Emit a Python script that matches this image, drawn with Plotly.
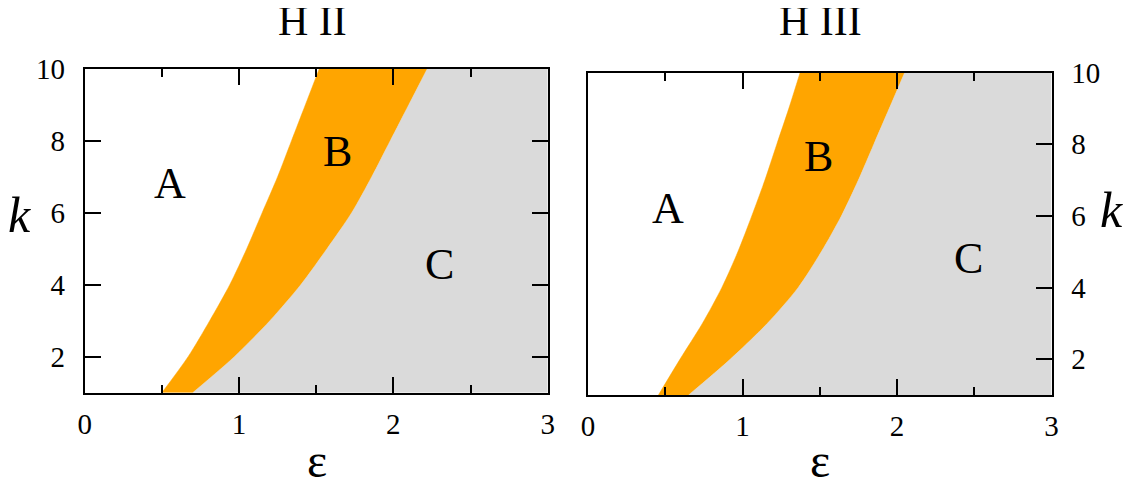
import plotly.graph_objects as go

W, H = 1131, 485
PAGE_OFFSET = 8  # default body margin of the html page

# ---- data ----
k_vals = [1, 2, 3, 4, 5, 6, 7, 8, 9, 10]
# H II panel
h2_ab = [0.50, 0.67, 0.81, 0.94, 1.05, 1.15, 1.25, 1.34, 1.43, 1.52]
h2_bc = [0.70, 0.97, 1.20, 1.40, 1.57, 1.73, 1.86, 1.98, 2.10, 2.22]
# H III panel
h3_ab = [0.455, 0.595, 0.74, 0.866, 0.97, 1.06, 1.145, 1.222, 1.30, 1.373]
h3_bc = [0.65, 0.92, 1.16, 1.36, 1.51, 1.64, 1.75, 1.85, 1.95, 2.05]

titles = ["H II", "H III"]
region_names = ["A", "B", "C"]
h2_label_pos = [(0.55, 6.82), (1.64, 7.69), (2.30, 4.55)]
h3_label_pos = [(0.52, 6.21), (1.49, 7.66), (2.46, 4.81)]

x_range = [0, 3]
y_range = [1, 10]
y_ticks = [2, 4, 6, 8, 10]

ORANGE = "#FFA500"
GRAY = "#DADADA"
FONT = "Liberation Serif"

# ---- layout geometry (pixels, target picture coordinates) ----
panels = [
    dict(x0=84.7, x1=547.7, y0=68.7, y1=392.7),
    dict(x0=588.0, x1=1051.5, y0=72.5, y1=395.2),
]

def px(x):
    return (x - PAGE_OFFSET) / W

def py(y):
    return 1 - (y - PAGE_OFFSET) / H

fig = go.Figure()

for i, (ab, bc, lab_pos) in enumerate([(h2_ab, h2_bc, h2_label_pos), (h3_ab, h3_bc, h3_label_pos)]):
    xa = "x" if i == 0 else "x2"
    ya = "y" if i == 0 else "y2"
    # right edge (invisible) for region C
    fig.add_trace(go.Scatter(x=[x_range[1]] * len(k_vals), y=k_vals, mode="lines",
                             line=dict(width=0, color=GRAY), xaxis=xa, yaxis=ya,
                             hoverinfo="skip", showlegend=False))
    # B/C boundary -> region C
    fig.add_trace(go.Scatter(x=bc, y=k_vals, mode="lines", fill="tonextx", fillcolor=GRAY,
                             line=dict(width=0.5, color=GRAY, shape="spline", smoothing=0.8),
                             xaxis=xa, yaxis=ya, hoverinfo="skip", showlegend=False))
    # A/B boundary -> region B
    fig.add_trace(go.Scatter(x=ab, y=k_vals, mode="lines", fill="tonextx", fillcolor=ORANGE,
                             line=dict(width=0.5, color=ORANGE, shape="spline", smoothing=0.8),
                             xaxis=xa, yaxis=ya, hoverinfo="skip", showlegend=False))
    for name, (lx, ly) in zip(region_names, lab_pos):
        fig.add_annotation(x=lx, y=ly, xref=xa, yref=ya, text=name, showarrow=False,
                           font=dict(family=FONT, size=44, color="black"))

axis_common = dict(showline=True, linecolor="black", linewidth=2, ticks="inside",
                   tickcolor="black", tickwidth=2, showgrid=False, zeroline=False,
                   automargin=False,
                   tickfont=dict(family=FONT, size=29, color="black"))

minor_x = dict(dtick=0.5, tick0=0, ticklen=8, ticks="inside", tickcolor="black",
               tickwidth=2, showgrid=False)

p0, p1 = panels
fig.update_layout(
    width=W, height=H, margin=dict(l=0, r=0, t=0, b=0, autoexpand=False),
    font=dict(family=FONT, color="black"),
    paper_bgcolor="white", plot_bgcolor="white", showlegend=False,
    xaxis=dict(domain=[px(p0["x0"]), px(p0["x1"])], range=x_range, anchor="y",
               tick0=0, dtick=1, ticklen=16, mirror="ticks", ticklabelstandoff=4,
               minor=minor_x, **axis_common),
    yaxis=dict(domain=[py(p0["y1"]), py(p0["y0"])], range=y_range, anchor="x",
               tickvals=y_ticks, ticklen=16, mirror="ticks", ticklabelstandoff=12,
               **axis_common),
    xaxis2=dict(domain=[px(p1["x0"]), px(p1["x1"])], range=x_range, anchor="y2",
                tick0=0, dtick=1, ticklen=16, mirror="ticks", ticklabelstandoff=4,
                minor=minor_x, **axis_common),
    yaxis2=dict(domain=[py(p1["y1"]), py(p1["y0"])], range=y_range, anchor="x2",
                side="right", tickvals=y_ticks, ticklen=16, mirror=True, ticklabelstandoff=12,
                **axis_common),
)

# titles and axis labels
text_items = [
    (titles[0], 312, 21, 42, False),
    (titles[1], 820, 21, 42, False),
    ("ε", 317, 460, 48, False),
    ("ε", 820, 460, 48, False),
    ("k", 19, 215, 50, True),
    ("k", 1111, 210, 50, True),
]
for txt, x, y, size, ital in text_items:
    fig.add_annotation(x=px(x), y=py(y), xref="paper", yref="paper",
                       text=f"<i>{txt}</i>" if ital else txt, showarrow=False,
                       font=dict(family=FONT, size=size, color="black"),
                       xanchor="center", yanchor="middle")

fig.write_html("out.html")
